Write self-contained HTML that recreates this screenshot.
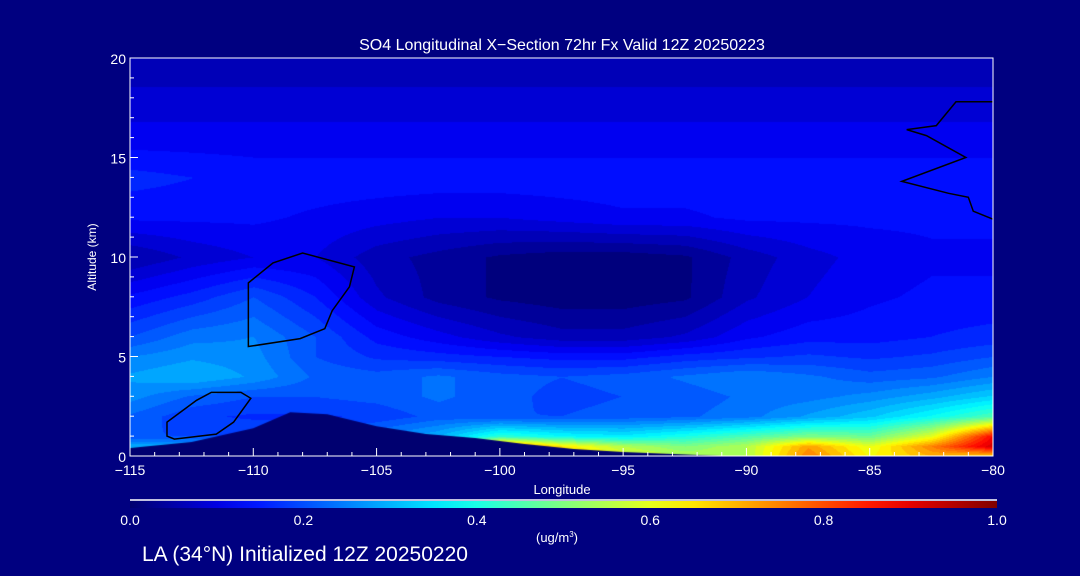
<!DOCTYPE html>
<html><head><meta charset="utf-8"><style>
body{margin:0;background:#000080;width:1080px;height:576px;overflow:hidden;font-family:"Liberation Sans Narrow","Liberation Sans",sans-serif;}
#wrap{position:relative;width:1080px;height:576px;}
canvas,svg{position:absolute;left:0;top:0;}
text{font-family:"Liberation Sans Narrow","Liberation Sans",sans-serif;}
</style></head><body>
<div id="wrap">
<canvas id="cv" width="1080" height="576"></canvas>
<svg id="sv" width="1080" height="576"></svg>
</div>
<script>
const lons=[-115,-112.5,-110,-107.5,-105,-102.5,-100,-97.5,-95,-92.5,-90,-87.5,-85,-82.5,-80];
const alts=[0,0.5,1,2,3,4,5,6,8,10,12,14,16,18,20];
const conc=[
[0.4,0.4,0.4,0.4,0.4,0.4,0.75,0.7,0.6,0.55,0.55,0.75,0.62,0.7,0.65],
[0.3,0.3,0.3,0.3,0.3,0.35,0.8,0.65,0.55,0.5,0.55,0.72,0.6,0.75,0.92],
[0.2,0.2,0.2,0.2,0.25,0.3,0.42,0.38,0.36,0.4,0.45,0.5,0.48,0.6,0.88],
[0.22,0.18,0.17,0.17,0.18,0.21,0.2,0.2,0.21,0.22,0.24,0.28,0.32,0.38,0.45],
[0.26,0.22,0.2,0.2,0.21,0.23,0.21,0.19,0.2,0.21,0.23,0.24,0.26,0.29,0.33],
[0.28,0.3,0.27,0.22,0.21,0.23,0.21,0.2,0.21,0.23,0.25,0.23,0.21,0.22,0.25],
[0.25,0.27,0.26,0.2,0.17,0.16,0.15,0.14,0.14,0.16,0.17,0.18,0.17,0.18,0.2],
[0.2,0.24,0.25,0.2,0.14,0.11,0.08,0.06,0.06,0.08,0.12,0.14,0.14,0.15,0.16],
[0.13,0.16,0.2,0.15,0.08,0.04,0.02,0.01,0.01,0.02,0.07,0.1,0.12,0.13,0.13],
[0.05,0.08,0.1,0.1,0.06,0.04,0.02,0.01,0.01,0.02,0.06,0.09,0.11,0.12,0.12],
[0.13,0.13,0.13,0.12,0.11,0.1,0.1,0.11,0.12,0.12,0.13,0.13,0.13,0.13,0.13],
[0.16,0.15,0.14,0.14,0.14,0.14,0.14,0.14,0.14,0.14,0.14,0.14,0.14,0.14,0.14],
[0.11,0.11,0.11,0.11,0.11,0.11,0.11,0.11,0.11,0.11,0.11,0.11,0.11,0.11,0.11],
[0.085,0.085,0.085,0.085,0.085,0.085,0.085,0.085,0.085,0.085,0.085,0.085,0.085,0.085,0.085],
[0.05,0.05,0.05,0.05,0.05,0.05,0.05,0.05,0.05,0.05,0.05,0.05,0.05,0.05,0.05]];
const terrainLon=[-115,-112.5,-110,-108.5,-107,-105,-103,-101,-99,-97,-95,-93,-91,-89,-80];
const terrainAlt=[0.4,0.7,1.4,2.2,2.1,1.5,1.1,0.9,0.6,0.35,0.2,0.1,0.0,0.0,0.0];
const contourA=[[-113.5,1.0],[-113.5,1.7],[-112.3,2.8],[-111.7,3.2],[-110.5,3.2],[-110.1,2.9],[-110.8,1.7],[-111.5,1.1],[-113.2,0.85]];
const contourB=[[-110.2,5.5],[-110.2,8.7],[-109.2,9.7],[-108.0,10.2],[-105.9,9.5],[-106.1,8.5],[-106.8,7.3],[-107.1,6.4],[-108.1,5.9]];
const contourC=[[-80,17.8],[-81.5,17.8],[-82.3,16.6],[-83.5,16.4],[-82.7,16.1],[-81.1,15.0],[-83.7,13.8],[-81.8,13.2],[-81.0,13.0],[-80.8,12.3],[-80,11.9]];
const xTicks=[-115,-110,-105,-100,-95,-90,-85,-80];
const yTicks=[0,5,10,15,20];
const cbTicks=[0.0,0.2,0.4,0.6,0.8,1.0];

const X0=130,X1=993,Y0=456,Y1=58;
const xs=l=>X0+(l+115)/35*(X1-X0);
const ys=a=>Y0-a/20*(Y0-Y1);
function jet(v){v=Math.max(0,Math.min(1,v));
 const st=[[0,0,0,110],[0.125,0,0,255],[0.375,0,255,255],[0.5,128,255,128],[0.625,255,255,0],[0.875,255,0,0],[1,128,0,0]];
 for(let i=1;i<st.length;i++){if(v<=st[i][0]){const a=st[i-1],b=st[i],t=(v-a[0])/(b[0]-a[0]);return [0,1,2].map(k=>Math.round(a[k+1]+t*(b[k+1]-a[k+1])));}}return [128,0,0];}
function idx(arr,v){for(let i=0;i<arr.length-1;i++)if(v<=arr[i+1])return [i,(v-arr[i])/(arr[i+1]-arr[i])];return [arr.length-2,1];}
const cv=document.getElementById('cv'),ctx=cv.getContext('2d');
ctx.fillStyle='#000080';ctx.fillRect(0,0,1080,576);
const W=X1-X0,H=Y0-Y1;
const img=ctx.createImageData(W,H);
for(let py=0;py<H;py++){const a=(H-py)/H*20;const [j,ty]=idx(alts,a);
 for(let px=0;px<W;px++){const l=-115+px/W*35;const [i,tx]=idx(lons,l);
  const v=(conc[j][i]*(1-tx)+conc[j][i+1]*tx)*(1-ty)+(conc[j+1][i]*(1-tx)+conc[j+1][i+1]*tx)*ty;
  const q=Math.floor(v/0.025+0.013)*0.025+0.0125;const c=jet(q);const o=(py*W+px)*4;
  img.data[o]=c[0];img.data[o+1]=c[1];img.data[o+2]=c[2];img.data[o+3]=255;}}
ctx.putImageData(img,X0,Y1);
ctx.fillStyle='#000070';ctx.beginPath();ctx.moveTo(xs(-115),Y0);
terrainLon.forEach((l,k)=>ctx.lineTo(xs(l),ys(terrainAlt[k])));ctx.lineTo(X1,Y0);ctx.fill();

const sv=document.getElementById('sv');const NS='http://www.w3.org/2000/svg';
function el(t,a,p){const e=document.createElementNS(NS,t);for(const k in a)e.setAttribute(k,a[k]);(p||sv).appendChild(e);return e;}
function txt(s,x,y,size,anchor,name){const e=el('text',{x,y,'font-size':size,fill:'#fff','text-anchor':anchor||'middle'});e.textContent=s;
 
 return e;}
[contourA,contourB].forEach((c,k)=>{const p=el('polygon',{points:c.map(q=>xs(q[0])+','+ys(q[1])).join(' '),fill:'none',stroke:'#000','stroke-width':1.5});
 
 });
const pc=el('polyline',{points:contourC.map(q=>xs(q[0])+','+ys(q[1])).join(' '),fill:'none',stroke:'#000','stroke-width':1.5});


const fr=el('rect',{x:X0,y:Y1,width:X1-X0,height:Y0-Y1,fill:'none',stroke:'#fff','stroke-width':1});


for(let l=-115;l<=-80;l++){const major=(l%5===0);el('line',{x1:xs(l),x2:xs(l),y1:Y0,y2:Y0-(major?8:4),stroke:'#fff'});}
for(let a=0;a<=20;a++){const major=(a%5===0);el('line',{x1:X0,x2:X0+(major?8:4),y1:ys(a),y2:ys(a),stroke:'#fff'});}
xTicks.forEach(t=>txt(String(t).replace('-','\u2212'),xs(t),475,14,'middle','x-tick-label'));
yTicks.forEach(t=>txt(String(t),X0-4,ys(t)+6,14,'end','y-tick-label'));
txt('Longitude',562,494,13,'middle','x-axis-title');
const yt=txt('Altitude (km)',96,257,12,'middle','y-axis-title');yt.setAttribute('transform','rotate(-90 96 257)');
txt('SO4 Longitudinal X\u2212Section 72hr  Fx Valid 12Z 20250223',562,50,16,'middle','chart-title');
const defs=el('defs',{});const g=el('linearGradient',{id:'cb'},defs);
for(let k=0;k<=20;k++){const c=jet(k/20);el('stop',{offset:(k*5)+'%','stop-color':'rgb('+c.join(',')+')'},g);}
el('line',{x1:130,x2:997,y1:500,y2:500,stroke:'#fff','stroke-width':1.5});
const cb=el('rect',{x:130,y:501,width:867,height:7,fill:'url(#cb)'});


cbTicks.forEach(t=>txt(t.toFixed(1),130+t*867,525,14,'middle','colorbar-tick-label'));
const u=txt('(ug/m',557,542,13,'middle','colorbar-unit');
const sup=el('tspan',{'font-size':8,dy:-5},u);sup.textContent='3';const cl=el('tspan',{dy:5},u);cl.textContent=')';
txt('LA (34\u00b0N) Initialized 12Z 20250220',142,561,21,'start','footer-text');
</script></body></html>
